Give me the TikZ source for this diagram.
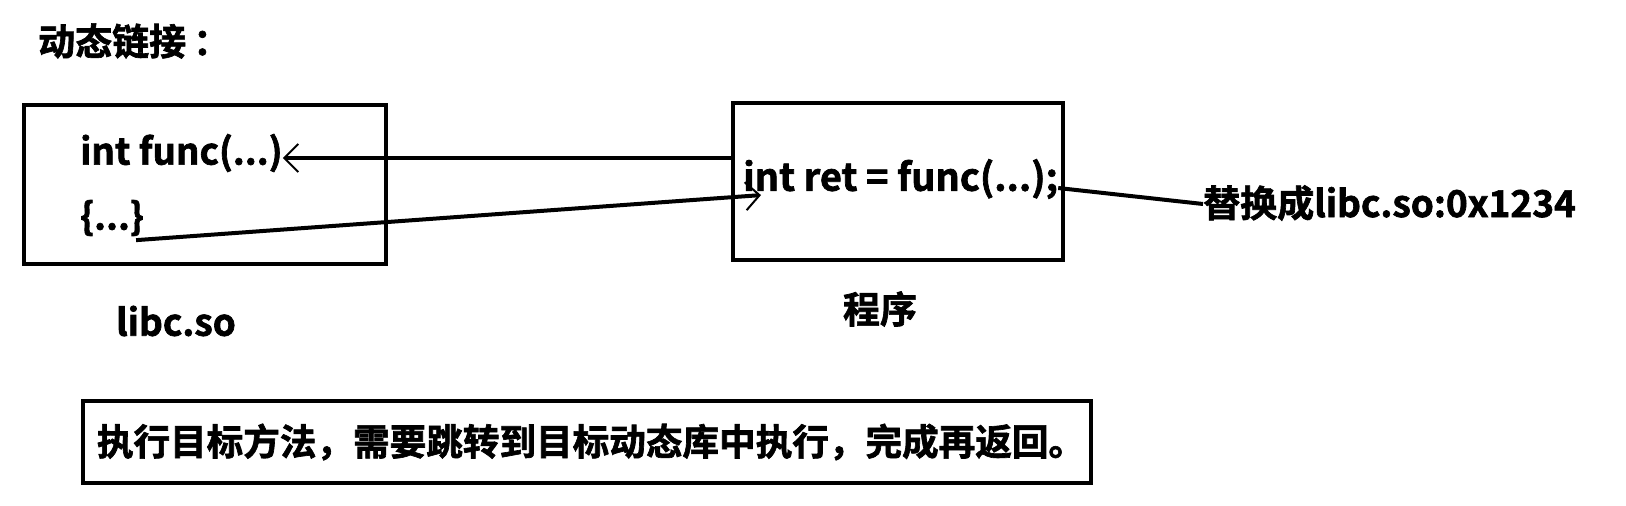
\documentclass[tikz,border=0pt]{standalone}
\usepackage{fontspec}
\setmainfont{Noto Sans CJK SC}[UprightFont={* Bold}, UprightFeatures={FakeBold=1.8}]
\usetikzlibrary{arrows.meta, positioning, calc}

\begin{document}
\begin{tikzpicture}[
    x=1pt, y=-1pt,
    every node/.style={inner sep=0pt},
    big/.style={font=\fontsize{37}{44}\selectfont},
    code/.style={font=\fontsize{38}{44}\selectfont},
    small/.style={font=\fontsize{36.8}{42}\selectfont},
    head/.style={font=\fontsize{37}{40}\selectfont},
    frame/.style={rectangle, draw, line width=4pt},
    link/.style={line width=4pt},
    arrow/.style={link, -{Straight Barb[length=14pt, width=28pt, line width=2pt]}}
]
\useasboundingbox (0,0) rectangle (1626,506);
\node[head, anchor=west] (title) at (38,41) {动态链接\hspace{7pt}：};
\node[frame, minimum width=362pt, minimum height=159pt] (lib) at (205,184.5) {};
\node[small, anchor=west] (func) at (80,153) {int func(...)};
\node[small, anchor=west] (body) at (80,218) {\{...\}};
\node[big] (libname) at (176,321) {libc.so};
\node[frame, minimum width=330pt, minimum height=157pt] (prog) at (898,181.5) {};
\node[code, anchor=west] (call) at (743,179) {int ret = func(...);};
\node[big] (progname) at (880,309) {程序};
\node[big, anchor=west] (patch) at (1203,203) {替换成libc.so:0x1234};
\node[frame, font=\fontsize{36.6}{44}\selectfont, minimum width=1008pt, minimum height=82pt] (note) at (587,442) {\hspace*{8pt}执行目标方法，需要跳转到目标动态库中执行，完成再返回。};

\draw[arrow] (prog.west |- 0,158) -- (func.east |- 0,158);
\draw[arrow] ([shift={(-8,4)}]body.south east) -- ([shift={(18,-4)}]call.south west);
\draw[link] ([yshift=-9pt]call.east) -- ([yshift=-1pt]patch.west);
\end{tikzpicture}
\end{document}
